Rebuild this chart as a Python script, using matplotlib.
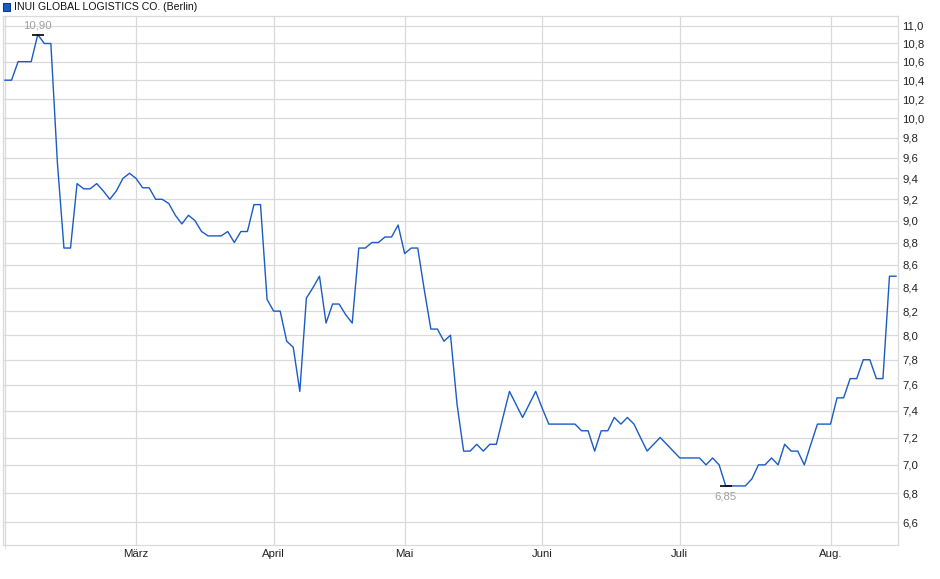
import matplotlib
matplotlib.use('agg')
from matplotlib import pyplot as plt
from matplotlib.patches import Rectangle
from matplotlib.ticker import FixedLocator, NullLocator
import numpy as np

# closing prices, one per trading day
prices = [
    10.4, 10.4, 10.6, 10.6, 10.6, 10.9, 10.8, 10.8, 9.55, 8.75,
    8.75, 9.35, 9.3, 9.3, 9.35, 9.28, 9.2, 9.28, 9.4, 9.45,
    9.4, 9.31, 9.31, 9.2, 9.2, 9.16, 9.05, 8.97, 9.05, 9.0,
    8.9, 8.86, 8.86, 8.86, 8.9, 8.8, 8.9, 8.9, 9.15, 9.15,
    8.3, 8.2, 8.2, 7.95, 7.9, 7.55, 8.31, 8.4, 8.5, 8.1,
    8.26, 8.26, 8.17, 8.1, 8.75, 8.75, 8.8, 8.8, 8.85, 8.85,
    8.96, 8.7, 8.75, 8.75, 8.38, 8.05, 8.05, 7.95, 8.0, 7.45,
    7.1, 7.1, 7.15, 7.1, 7.15, 7.15, 7.35, 7.55, 7.45, 7.35,
    7.45, 7.55, 7.42, 7.3, 7.3, 7.3, 7.3, 7.3, 7.25, 7.25,
    7.1, 7.25, 7.25, 7.35, 7.3, 7.35, 7.3, 7.2, 7.1, 7.15,
    7.2, 7.15, 7.1, 7.05, 7.05, 7.05, 7.05, 7.0, 7.05, 7.0,
    6.85, 6.85, 6.85, 6.85, 6.9, 7.0, 7.0, 7.05, 7.0, 7.15,
    7.1, 7.1, 7.0, 7.15, 7.3, 7.3, 7.3, 7.5, 7.5, 7.65,
    7.65, 7.8, 7.8, 7.65, 7.65, 8.5, 8.5,
]
# trading-day index where each month starts
month_pos = [20, 41, 61, 82, 103, 126]
month_labels = ['März', 'April', 'Mai', 'Juni', 'Juli', 'Aug.']
y_ticks = [6.6, 6.8, 7.0, 7.2, 7.4, 7.6, 7.8, 8.0, 8.2, 8.4, 8.6, 8.8,
           9.0, 9.2, 9.4, 9.6, 9.8, 10.0, 10.2, 10.4, 10.6, 10.8, 11.0]
title = 'INUI GLOBAL LOGISTICS CO. (Berlin)'

plt.rcParams['font.family'] = ['Liberation Sans', 'DejaVu Sans']
grid_col = '#dadada'
line_col = '#1a5bc4'

W, H = 940, 579
fig = plt.figure(figsize=(W / 100, H / 100), dpi=100)
ax = fig.add_axes([2.7 / W, 34 / H, (898 - 2.7) / W, (545 - 16) / H])

x = np.arange(len(prices))
ax.plot(x, prices, color=line_col, lw=1.0, zorder=3)

ax.set_yscale('log')
ax.set_ylim(6.446, 11.11)
ax.set_xlim(-0.35, 136.3)

ax.yaxis.set_major_locator(FixedLocator(y_ticks))
ax.yaxis.set_minor_locator(NullLocator())
ax.set_yticklabels([f'{v:.1f}'.replace('.', ',') for v in y_ticks])
ax.yaxis.tick_right()
ax.set_xticks(month_pos)
ax.set_xticklabels(month_labels)
ax.set_xticks([0], minor=True)
ax.tick_params(axis='both', which='major', length=0, labelsize=8.2, colors='#222222')
ax.tick_params(axis='y', pad=3)
ax.tick_params(axis='x', pad=3)
ax.tick_params(axis='x', which='minor', length=3, color=grid_col)

ax.grid(True, color=grid_col, lw=0.9)
ax.axvline(0, color=grid_col, lw=0.9, zorder=1)
for s in ax.spines.values():
    s.set_color(grid_col)
    s.set_linewidth(0.9)

# high / low markers
hi = int(np.argmax(prices))
lo = int(np.argmin(prices))
ax.plot([hi], [prices[hi]], marker='_', ms=9, mew=1.2, color='black', zorder=4)
ax.plot([lo], [prices[lo]], marker='_', ms=9, mew=1.2, color='black', zorder=4)
ax.annotate(f'{prices[hi]:.2f}'.replace('.', ','), (hi, prices[hi]), xytext=(0, 6.5),
            textcoords='offset points', ha='center', va='center', fontsize=8.2, color='#a0a0a0')
ax.annotate(f'{prices[lo]:.2f}'.replace('.', ','), (lo, prices[lo]), xytext=(0, -7.5),
            textcoords='offset points', ha='center', va='center', fontsize=8.2, color='#a0a0a0')

# legend square + title
fig.patches.append(Rectangle((3 / W, 1 - 10.5 / H), 7 / W, 7 / H, transform=fig.transFigure,
                             facecolor=line_col, edgecolor='#0d3a8a', lw=0.8))
fig.text(14 / W, 1 - 6.5 / H, title, ha='left', va='center', fontsize=7.6, color='#111111')

fig.savefig('out.png', dpi=100)
